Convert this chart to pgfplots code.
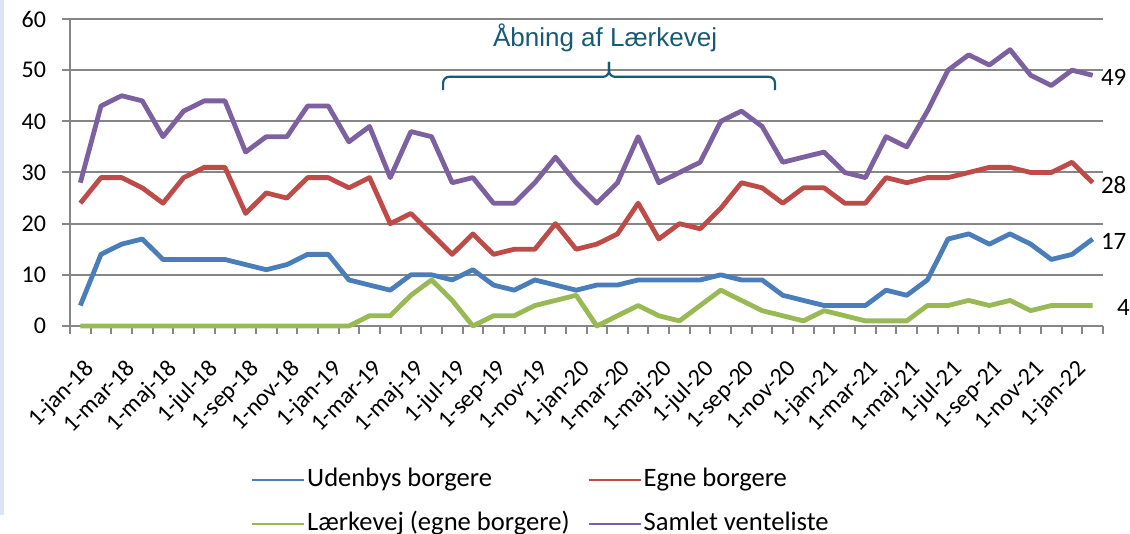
\documentclass[border=0pt]{standalone}
\usepackage{fontspec}
\setmainfont{Carlito}
\newfontfamily\arialf{Liberation Sans}
\usepackage{pgfplots}
\usepackage{pgfplotstable}
\pgfplotsset{compat=1.18}
\definecolor{cblue}{RGB}{74,126,187}
\definecolor{cred}{RGB}{190,75,72}
\definecolor{cgreen}{RGB}{152,185,84}
\definecolor{cpurple}{RGB}{125,96,160}
\definecolor{gridgray}{RGB}{134,134,134}
\definecolor{annoteal}{RGB}{24,90,118}
\definecolor{stripblue}{RGB}{218,230,245}

\pgfplotstableread{
x blue red green purple
0 4 24 0 28
1 14 29 0 43
2 16 29 0 45
3 17 27 0 44
4 13 24 0 37
5 13 29 0 42
6 13 31 0 44
7 13 31 0 44
8 12 22 0 34
9 11 26 0 37
10 12 25 0 37
11 14 29 0 43
12 14 29 0 43
13 9 27 0 36
14 8 29 2 39
15 7 20 2 29
16 10 22 6 38
17 10 18 9 37
18 9 14 5 28
19 11 18 0 29
20 8 14 2 24
21 7 15 2 24
22 9 15 4 28
23 8 20 5 33
24 7 15 6 28
25 8 16 0 24
26 8 18 2 28
27 9 24 4 37
28 9 17 2 28
29 9 20 1 30
30 9 19 4 32
31 10 23 7 40
32 9 28 5 42
33 9 27 3 39
34 6 24 2 32
35 5 27 1 33
36 4 27 3 34
37 4 24 2 30
38 4 24 1 29
39 7 29 1 37
40 6 28 1 35
41 9 29 4 42
42 17 29 4 50
43 18 30 5 53
44 16 31 4 51
45 18 31 5 54
46 16 30 3 49
47 13 30 4 47
48 14 32 4 50
49 17 28 4 49
}\datatable

\begin{document}
\begin{tikzpicture}
\begin{axis}[
  at={(0,0)}, anchor=south west,
  scale only axis, width=516.5pt, height=153.5pt,
  xmin=-0.5, xmax=49.5, ymin=0, ymax=60,
  ytick={0,10,...,60},
  minor ytick={0,10,...,60},
  xtick={0,2,...,48},
  minor xtick={-0.5,0.5,...,49.5},
  xticklabels={1-jan-18,1-mar-18,1-maj-18,1-jul-18,1-sep-18,1-nov-18,1-jan-19,1-mar-19,1-maj-19,1-jul-19,1-sep-19,1-nov-19,1-jan-20,1-mar-20,1-maj-20,1-jul-20,1-sep-20,1-nov-20,1-jan-21,1-mar-21,1-maj-21,1-jul-21,1-sep-21,1-nov-21,1-jan-22},
  ymajorgrids,
  grid style={gridgray, line width=1pt},
  axis x line=bottom, axis y line=left,
  axis line style={gridgray, line width=1pt, -},
  tick style={gridgray, line width=1pt},
  major tick length=0pt, minor tick length=4pt, tick align=outside,
  x tick label style={font=\fontsize{12}{14}\selectfont, inner sep=0pt, xshift=1.5pt, yshift=-16pt, rotate=45, anchor=north east},
  y tick label style={font=\fontsize{12}{14}\selectfont, xshift=-8.5pt},
  /pgf/number format/assume math mode=true,
  clip=false,
  legend columns=2,
  legend cell align=left,
  legend style={draw=none, fill=none, at={(0.175,-0.449)}, anchor=north west, inner sep=0pt,
    font=\fontsize{13.3}{15}\selectfont, row sep=6.5pt,
    nodes={inner sep=1pt, text height=10pt, text depth=3.5pt},
    /tikz/every even column/.append style={column sep=8pt}},
  legend image code/.code={\draw[#1, line width=1pt] (0pt,0pt) -- (26pt,0pt);},
  every axis plot/.append style={line width=2.4pt, line join=round},
]
\addplot[cblue, mark=none] table[x=x, y=blue] {\datatable};
\addlegendentry{Udenbys borgere}
\addplot[cred, mark=none] table[x=x, y=red] {\datatable};
\addlegendentry{Egne borgere}
\addplot[cgreen, mark=none] table[x=x, y=green] {\datatable};
\addlegendentry{Lærkevej (egne borgere)}
\addplot[cpurple, mark=none] table[x=x, y=purple] {\datatable};
\addlegendentry{Samlet venteliste}

\addplot[draw=none, mark=none, forget plot, nodes near coords, point meta=explicit symbolic,
  nodes near coords style={anchor=west, font=\fontsize{12.5}{15}\selectfont, text=black, yshift=-1pt, inner sep=3pt}]
  coordinates {(49,49) [49] (49,28) [28] (49,17) [17]};
\addplot[draw=none, mark=none, forget plot, nodes near coords, point meta=explicit symbolic,
  nodes near coords style={anchor=west, font=\fontsize{12.5}{15}\selectfont, text=black, yshift=-1pt, xshift=8pt, inner sep=3pt}]
  coordinates {(49,4) [4]};

\draw[annoteal, line width=1.1pt, rounded corners=3pt]
  (axis cs:17.56,46.1) -- (axis cs:17.56,48.7) -- (axis cs:25.59,48.7) -- (axis cs:25.59,51.6);
\draw[annoteal, line width=1.1pt, rounded corners=3pt]
  (axis cs:33.62,46.1) -- (axis cs:33.62,48.7) -- (axis cs:25.59,48.7) -- (axis cs:25.59,51.6);
\node[font=\arialf\fontsize{13}{15}\selectfont, text=annoteal, anchor=base] at (axis cs:25.4,54.7) {Åbning af Lærkevej};
\end{axis}
\fill[stripblue] (-35pt,-94.5pt) rectangle (-33pt,163pt);
\pgfresetboundingbox
\useasboundingbox (-35pt,-104pt) rectangle (530pt,163pt);
\end{tikzpicture}
\end{document}
